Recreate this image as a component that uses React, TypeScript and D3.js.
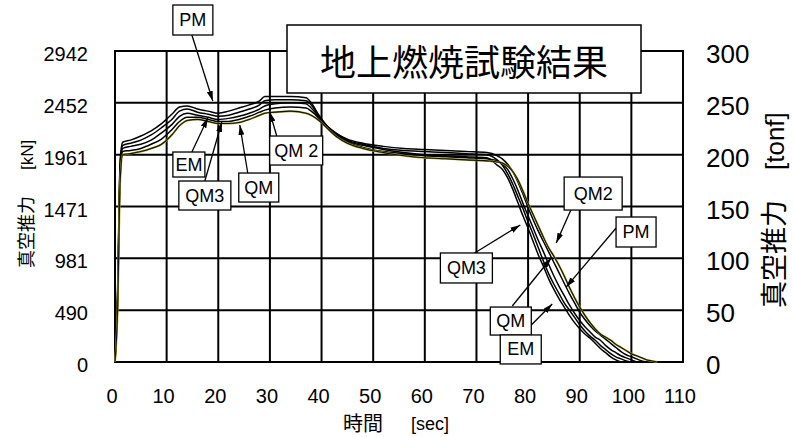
import React from 'react';
import * as d3 from 'd3';

// burn time [sec]
const times = [
  0, 0.5, 1, 1.5, 3, 5, 7, 9, 11, 12.5, 14, 16, 18, 20, 22, 24, 26, 28, 29, 31, 34, 37, 38, 39.5, 41, 43, 45, 48, 52, 56, 60, 64, 68, 72,
  74, 75, 76, 77, 78, 79, 80, 81, 82, 83, 84, 85, 86, 87, 88, 89, 90, 91, 92, 93, 94, 95, 96, 97, 98, 99, 100, 101, 102, 103, 104, 105,
];

// vacuum thrust [tonf], null = test ended
const pmThrust = [
  0, 70, 195, 212, 214, 218, 223, 230, 239, 246, 247, 244, 242, 240, 242, 245, 248, 252, 256, 256, 256, 255, 250, 238, 228, 220, 215, 211, 208, 206, 205, 204, 203, 202,
  199, 196, 191, 184, 174, 162, 149, 137, 126, 116, 106, 96, 86, 76, 66, 57, 48, 41, 35, 30, 26, 22, 18, 14, 10, 7, 5, 3, 1, 0, null, null,
];
const emThrust = [
  0, 65, 190, 209, 211, 214, 219, 226, 234, 242, 244, 241, 239, 237, 238, 241, 244, 248, 252, 253, 253, 252, 248, 237, 228, 220, 214, 210, 206, 204, 203, 202, 201, 200,
  195, 190, 182, 172, 160, 148, 135, 123, 110, 97, 85, 75, 66, 57, 50, 43, 36, 30, 25, 21, 16, 12, 8, 5, 3, 1, 0, null, null, null, null, null,
];
const qm3Thrust = [
  0, 60, 185, 206, 208, 210, 214, 221, 229, 237, 240, 238, 236, 234, 235, 237, 240, 244, 247, 249, 250, 249, 245, 236, 227, 219, 213, 209, 205, 202, 200, 199, 198, 197,
  190, 186, 178, 167, 154, 141, 129, 116, 103, 92, 80, 70, 61, 53, 45, 38, 32, 27, 23, 18, 13, 9, 5, 2, 0, null, null, null, null, null, null, null,
];
const qmThrust = [
  0, 55, 180, 203, 204, 206, 210, 215, 224, 232, 236, 236, 234, 232, 232, 234, 237, 241, 243, 245, 246, 245, 242, 235, 226, 218, 212, 207, 203, 201, 199, 198, 197, 196,
  194, 191, 186, 177, 166, 153, 141, 129, 117, 106, 94, 83, 73, 64, 55, 47, 40, 34, 29, 24, 21, 16, 12, 9, 6, 4, 2, 0, null, null, null, null,
];
const qm2Thrust = [
  0, 50, 175, 200, 201, 203, 206, 210, 219, 228, 233, 234, 232, 230, 230, 231, 234, 238, 240, 241, 242, 240, 238, 233, 226, 217, 211, 206, 202, 199, 197, 196, 195, 194,
  193, 192, 189, 184, 176, 165, 153, 142, 131, 120, 110, 102, 93, 83, 72, 62, 53, 45, 38, 32, 27, 24, 21, 17, 14, 11, 8, 6, 4, 2, 1, 0,
];

const xTicks = [0, 10, 20, 30, 40, 50, 60, 70, 80, 90, 100, 110];
const tonfTicks = [0, 50, 100, 150, 200, 250, 300];
const kNLabels = ['0', '490', '981', '1471', '1961', '2452', '2942'];

const series = [
  { name: 'PM', values: pmThrust },
  { name: 'EM', values: emThrust },
  { name: 'QM3', values: qm3Thrust },
  { name: 'QM', values: qmThrust },
  { name: 'QM2', values: qm2Thrust },
];

// callout boxes: centre [sec, tonf], arrow from -> to [sec, tonf]
const callouts = [
  { text: 'PM', at: [15.08, 329.9], w: 40, h: 30, from: [14.89, 315.4], to: [18.95, 251.8] },
  { text: 'EM', at: [14.31, 190.5], w: 32, h: 25, from: [14.89, 202.6], to: [17.98, 235.4] },
  { text: 'QM3', at: [17.4, 160.6], w: 52, h: 29, from: [17.4, 174.6], to: [20.69, 231.5] },
  { text: 'QM', at: [27.84, 168.3], w: 40, h: 29, from: [25.71, 182.3], to: [24.17, 228.6] },
  { text: 'QM 2', at: [35.09, 204.0], w: 53, h: 29, from: [31.32, 218.0], to: [29.97, 241.2] },
  { text: 'QM3', at: [68.05, 90.7], w: 52, h: 30, from: [69.02, 103.2], to: [78.49, 132.2] },
  { text: 'QM2', at: [92.6, 162.5], w: 58, h: 33, from: [89.31, 158.2], to: [85.45, 114.8] },
  { text: 'PM', at: [100.91, 125.4], w: 40, h: 30, from: [97.05, 129.3], to: [87.38, 72.3] },
  { text: 'QM', at: [76.65, 39.5], w: 41, h: 28, from: [76.94, 54.0], to: [84.48, 100.3] },
  { text: 'EM', at: [78.58, 12.1], w: 41, h: 29, from: [80.62, 35.7], to: [84.67, 55.9] },
];

const latin = '"Liberation Sans", Arial, sans-serif';
const cjk = '"Noto Sans CJK JP", sans-serif';

export default function App() {
  const width = 793;
  const height = 437;
  const margin = { top: 51, right: 110, bottom: 75, left: 115 };

  const x = d3.scaleLinear().domain([0, 110]).range([margin.left, width - margin.right]);
  const y = d3.scaleLinear().domain([0, 300]).range([height - margin.bottom, margin.top]);

  const lineGen = d3
    .line<number | null>()
    .defined((d) => d !== null)
    .x((_, i) => x(times[i]))
    .y((d) => y(d as number))
    .curve(d3.curveMonotoneX);

  const x0 = x(0);
  const x1 = x(110);
  const y0 = y(0);
  const y1 = y(300);

  return (
    <svg width={width} height={height} style={{ position: 'absolute', left: 0, top: 0, background: '#fff' }}>
      <defs>
        <marker id="ah" viewBox="0 0 10 6" refX="10" refY="3" markerWidth="10" markerHeight="6" markerUnits="userSpaceOnUse" orient="auto">
          <path d="M0,0 L10,3 L0,6 z" fill="#000" />
        </marker>
      </defs>
      <rect width={width} height={height} fill="#fff" />

      {/* grid */}
      {xTicks.map((t) => (
        <line key={'gx' + t} x1={x(t)} x2={x(t)} y1={y1} y2={y0} stroke="#000" strokeWidth={2} />
      ))}
      {tonfTicks.map((v) => (
        <line key={'gy' + v} x1={x0} x2={x1} y1={y(v)} y2={y(v)} stroke="#000" strokeWidth={2} />
      ))}
      <rect x={x0} y={y1} width={x1 - x0} height={y0 - y1} fill="none" stroke="#000" strokeWidth={2} />

      {/* thrust curves */}
      {series.map((s) =>
        s.name === 'QM2' ? (
          <g key={s.name}>
            <path d={lineGen(s.values) || ''} fill="none" stroke="#a9a31a" strokeWidth={2} />
            <path d={lineGen(s.values) || ''} fill="none" stroke="#111" strokeWidth={1.1} />
          </g>
        ) : (
          <path key={s.name} d={lineGen(s.values) || ''} fill="none" stroke="#000" strokeWidth={1.5} />
        )
      )}

      {/* left axis (kN) */}
      {tonfTicks.map((v, i) => (
        <text key={'l' + v} x={88} y={y(v) + 10} fontSize={20} fontFamily={latin} textAnchor="end">
          {kNLabels[i]}
        </text>
      ))}
      {/* right axis (tonf) */}
      {tonfTicks.map((v) => (
        <text key={'r' + v} x={706} y={y(v) + 12} fontSize={26} fontFamily={latin}>
          {v}
        </text>
      ))}
      {/* x axis */}
      {xTicks.map((t) => (
        <text key={'xt' + t} x={x(t) - 3} y={403} fontSize={20} fontFamily={latin} textAnchor="middle">
          {t}
        </text>
      ))}
      <text x={343} y={431} fontSize={20} fontFamily={cjk}>時間</text>
      <text x={411} y={430} fontSize={18} fontFamily={latin}>[sec]</text>

      {/* axis titles */}
      <g transform="translate(33,268) rotate(-90)">
        <text x={0} y={0} fontSize={18} fontFamily={cjk}>真空推力</text>
        <text x={98} y={0} fontSize={17} fontFamily={latin}>[kN]</text>
      </g>
      <g transform="translate(784,308) rotate(-90)">
        <text x={0} y={0} fontSize={27} fontFamily={cjk}>真空推力</text>
        <text x={138} y={0} fontSize={26} fontFamily={latin}>[tonf]</text>
      </g>

      {/* title */}
      <rect x={287} y={25} width={354} height={68} fill="#fff" stroke="#000" strokeWidth={1.5} />
      <text x={464} y={60} fontSize={36} fontFamily={cjk} textAnchor="middle" dominantBaseline="central">
        地上燃焼試験結果
      </text>

      {/* callouts */}
      {callouts.map((c, i) => (
        <line
          key={'cl' + i}
          x1={x(c.from[0])}
          y1={y(c.from[1])}
          x2={x(c.to[0])}
          y2={y(c.to[1])}
          stroke="#000"
          strokeWidth={1.3}
          markerEnd="url(#ah)"
        />
      ))}
      {callouts.map((c, i) => (
        <g key={'cb' + i}>
          <rect x={x(c.at[0]) - c.w / 2} y={y(c.at[1]) - c.h / 2} width={c.w} height={c.h} fill="#fff" stroke="#000" strokeWidth={1.3} />
          <text x={x(c.at[0])} y={y(c.at[1]) + 6} fontSize={18} fontFamily={latin} textAnchor="middle">
            {c.text}
          </text>
        </g>
      ))}
    </svg>
  );
}
